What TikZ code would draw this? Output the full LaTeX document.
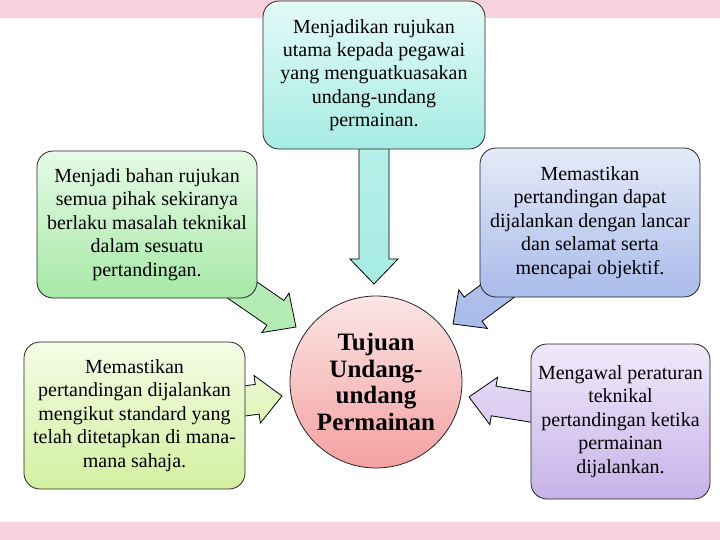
\documentclass[tikz,border=0pt]{standalone}
\usepackage{fontspec}
\setmainfont{Liberation Serif}
\usetikzlibrary{calc}
\pgfdeclarelayer{back}
\pgfdeclarelayer{arrows}
\pgfsetlayers{back,arrows,main}
\definecolor{band}{HTML}{F8D3DE}
\definecolor{cyanT}{HTML}{E4FAF7}\definecolor{cyanB}{HTML}{A6ECE4}
\definecolor{greenT}{HTML}{E6FBE6}\definecolor{greenB}{HTML}{A6E8A6}
\definecolor{blueT}{HTML}{E4EAF8}\definecolor{blueB}{HTML}{A9BBEA}
\definecolor{limeT}{HTML}{F5FCE6}\definecolor{limeB}{HTML}{D2F0A0}
\definecolor{purpT}{HTML}{F0EAFB}\definecolor{purpB}{HTML}{C6B2E8}
\definecolor{pinkT}{HTML}{FCE6E6}\definecolor{pinkB}{HTML}{F4A0A0}
\newcommand\blockarr[3]{%
  \coordinate (ba-h) at ($(#3)!25pt!(#2)$);
  \path[#1] ($(#2)!15pt!90:(#3)$) -- ($(ba-h)!15pt!90:(#3)$) -- ($(ba-h)!24pt!90:(#3)$)
    -- (#3) -- ($(ba-h)!24pt!-90:(#3)$) -- ($(ba-h)!15pt!-90:(#3)$) -- ($(#2)!15pt!-90:(#3)$) -- cycle;}
\begin{document}
\begin{tikzpicture}[x=1pt,y=-1pt,
  box/.style={draw=black!85, line width=0.8pt, rounded corners=16pt, align=center,
    inner sep=0pt, font=\fontsize{20}{23.4}\selectfont},
  arr/.style={draw=black, line width=0.8pt, line join=miter}]
\begin{pgfonlayer}{back}
\fill[white] (0,0) rectangle (720,540);
\fill[band] (0,0) rectangle (720,18);
\fill[band] (0,522) rectangle (720,540);
\end{pgfonlayer}
\useasboundingbox (0,0) rectangle (720,540);

\node[box, top color=cyanT, bottom color=cyanB, minimum width=222pt, minimum height=148pt]
  (top) at (374,75) {Menjadikan rujukan\\utama kepada pegawai\\yang menguatkuasakan\\undang-undang\\permainan.};
\node[box, top color=greenT, bottom color=greenB, minimum width=220pt, minimum height=147pt]
  (lu) at (147,224.5) {Menjadi bahan rujukan\\semua pihak sekiranya\\berlaku masalah teknikal\\dalam sesuatu\\pertandingan.};
\node[box, top color=blueT, bottom color=blueB, minimum width=220pt, minimum height=149pt]
  (ru) at (590,222.5) {Memastikan\\pertandingan dapat\\dijalankan dengan lancar\\dan selamat serta\\mencapai objektif.};
\node[box, top color=limeT, bottom color=limeB, minimum width=221pt, minimum height=147pt]
  (ll) at (134.5,415.5) {Memastikan\\pertandingan dijalankan\\mengikut standard yang\\telah ditetapkan di mana-\\mana sahaja.};
\node[box, top color=purpT, bottom color=purpB, minimum width=179pt, minimum height=155pt]
  (rl) at (620.5,421.5) {Mengawal peraturan\\teknikal\\pertandingan ketika\\permainan\\dijalankan.};
\node[circle, draw=black!85, line width=0.8pt, top color=pinkT, bottom color=pinkB,
  minimum size=172pt, inner sep=0pt, align=center,
  font=\fontsize{25}{26.7}\selectfont\bfseries] (c) at (376,382) {Tujuan\\Undang-\\undang\\Permainan};

\coordinate (t1) at (374,284);
\coordinate (t2) at (296,327);
\coordinate (t3) at (453,324);
\coordinate (t4) at (282,396);
\coordinate (t5) at (469,397);
\begin{pgfonlayer}{arrows}
\blockarr{arr, top color=cyanT!40!cyanB, bottom color=cyanB}{top}{t1}
\blockarr{arr, top color=greenT!30!greenB, bottom color=greenB!80!greenT}{lu}{t2}
\blockarr{arr, top color=blueT!30!blueB, bottom color=blueB}{ru}{t3}
\blockarr{arr, top color=limeT!70!limeB, bottom color=limeT!30!limeB}{ll}{t4}
\blockarr{arr, top color=purpT!70!purpB, bottom color=purpT!40!purpB}{rl}{t5}
\end{pgfonlayer}
\end{tikzpicture}
\end{document}
